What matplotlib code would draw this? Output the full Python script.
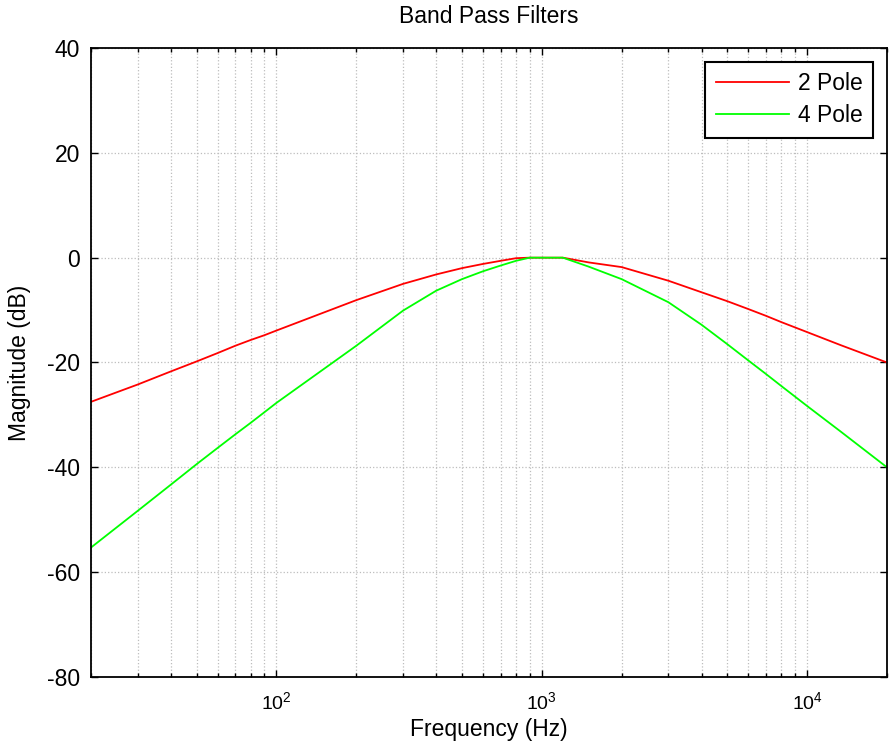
import matplotlib
matplotlib.use("Agg")
import matplotlib.pyplot as plt
from matplotlib.ticker import LogLocator, FixedLocator

plt.rcParams["font.family"] = ["Liberation Sans", "DejaVu Sans"]
plt.rcParams["mathtext.fontset"] = "custom"
plt.rcParams["mathtext.rm"] = "Liberation Sans"
plt.rcParams["mathtext.it"] = "Liberation Sans:italic"
plt.rcParams["axes.unicode_minus"] = False

freq_hz = [20, 30, 40, 50, 60, 70, 80, 90, 100, 200, 300, 400, 500, 600, 700,
           800, 900, 1000, 1200, 1500, 2000, 3000, 4000, 5000, 6000, 7000,
           8000, 10000, 13400, 20000]
mag_2pole = [-27.5, -24.2, -21.7, -19.8, -18.2, -16.8, -15.7, -14.8, -13.9,
             -8.1, -5.0, -3.2, -2.0, -1.2, -0.6, -0.1, 0.0, 0.0, 0.0, -0.9,
             -1.8, -4.4, -6.6, -8.3, -9.8, -11.1, -12.3, -14.2, -16.7, -20.0]
mag_4pole = [-55.3, -48.3, -43.3, -39.4, -36.3, -33.7, -31.5, -29.5, -27.7,
             -16.8, -10.1, -6.3, -4.1, -2.6, -1.5, -0.6, 0.0, 0.0, 0.0, -1.7,
             -4.1, -8.5, -12.8, -16.5, -19.6, -22.2, -24.5, -28.3, -33.2, -40.0]
y_ticks = [-80, -60, -40, -20, 0, 20, 40]

FS = 16.5

fig = plt.figure(figsize=(8.91, 7.5), dpi=100)
ax = fig.add_axes([91 / 891, 1 - 677 / 750, 796 / 891, 629 / 750])

ax.semilogx(freq_hz, mag_2pole, color="#ff0000", lw=1.3, label="2 Pole")
ax.semilogx(freq_hz, mag_4pole, color="#00ff00", lw=1.3, label="4 Pole")

ax.set_xlim(20, 20000)
ax.set_ylim(-80, 40)
ax.yaxis.set_major_locator(FixedLocator(y_ticks))
ax.xaxis.set_major_locator(LogLocator(base=10, numticks=10))
ax.xaxis.set_minor_locator(LogLocator(base=10, subs=range(2, 10), numticks=20))

ax.grid(True, which="major", axis="both", color="#bdbdbd", ls=":", lw=0.9)
ax.grid(True, which="minor", axis="x", color="#bdbdbd", ls=":", lw=0.9)
ax.set_axisbelow(True)

ax.tick_params(which="both", direction="in", top=True, right=True, width=1.0)
ax.tick_params(which="major", length=5)
ax.tick_params(which="minor", length=3)
ax.tick_params(axis="y", labelsize=FS, pad=8)
ax.tick_params(axis="x", labelsize=14, pad=10)
for s in ax.spines.values():
    s.set_linewidth(1.3)

ax.set_title("Band Pass Filters", fontsize=FS, pad=18)
ax.set_xlabel("Frequency (Hz)", fontsize=FS, labelpad=4)
ax.set_ylabel("Magnitude (dB)", fontsize=FS, labelpad=11)

leg = ax.legend(loc="upper right", fontsize=FS, fancybox=False,
                framealpha=1, edgecolor="black", borderaxespad=0.6,
                handlelength=3.2, handletextpad=0.4, borderpad=0.45,
                labelspacing=0.4)
leg.get_frame().set_linewidth(1.5)

fig.savefig("out.png", dpi=100)
